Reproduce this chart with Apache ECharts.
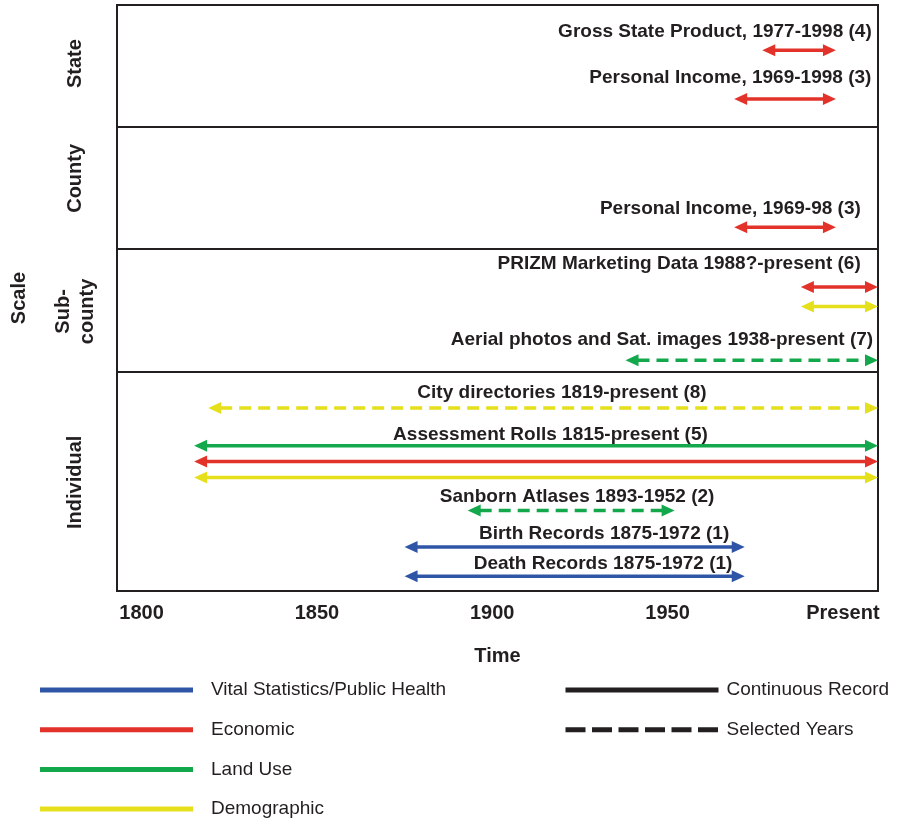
<!DOCTYPE html>
<html>
<head>
<meta charset="utf-8">
<title>Record sources by scale and time</title>
<script src="https://cdn.jsdelivr.net/npm/echarts@6/dist/echarts.min.js"></script>
<style>
  html, body { margin: 0; padding: 0; background: #ffffff; }
  #chart { width: 898px; height: 822px; }
</style>
</head>
<body>
<div id="chart"></div>
<script>
// ---- Data -----------------------------------------------------------------
// Time axis runs from just before 1800 to the present; open-ended records
// ("-present") run to the right edge.
const TIME_MIN = 1793;
const PRESENT = 2010;

const timeTicks = [1800, 1850, 1900, 1950, 2000];
const timeTickLabels = ['1800', '1850', '1900', '1950', 'Present'];

const scaleNames = ['State', 'County', 'Sub-\ncounty', 'Individual'];

const themes = ['Vital Statistics/Public Health', 'Economic', 'Land Use', 'Demographic'];
const recordings = ['Continuous Record', 'Selected Years'];

// One entry per record source
const sourceTitles = [
  'Gross State Product, 1977-1998 (4)',
  'Personal Income, 1969-1998 (3)',
  'Personal Income, 1969-98 (3)',
  'PRIZM Marketing Data 1988?-present (6)',
  'Aerial photos and Sat. images 1938-present (7)',
  'City directories 1819-present (8)',
  'Assessment Rolls 1815-present (5)',
  'Sanborn Atlases 1893-1952 (2)',
  'Birth Records 1875-1972 (1)',
  'Death Records 1875-1972 (1)'
];
const sourceScale = ['State', 'State', 'County', 'Sub-\ncounty', 'Sub-\ncounty',
  'Individual', 'Individual', 'Individual', 'Individual', 'Individual'];
const sourceFrom = [1977, 1969, 1969, 1988, 1938, 1819, 1815, 1893, 1875, 1875];
const sourceTo = [1998, 1998, 1998, PRESENT, PRESENT, PRESENT, PRESENT, 1952, 1972, 1972];
const sourceThemes = [
  ['Economic'],
  ['Economic'],
  ['Economic'],
  ['Economic', 'Demographic'],
  ['Land Use'],
  ['Demographic'],
  ['Land Use', 'Economic', 'Demographic'],
  ['Land Use'],
  ['Vital Statistics/Public Health'],
  ['Vital Statistics/Public Health']
];
const sourceRecording = [
  'Continuous Record', 'Continuous Record', 'Continuous Record', 'Continuous Record',
  'Selected Years', 'Selected Years', 'Continuous Record', 'Selected Years',
  'Continuous Record', 'Continuous Record'
];

// ---- Layout ---------------------------------------------------------------
// Vertical axis units: each scale band is 10 units tall, Individual is 18.
const scaleBounds = [0, 10, 20, 30, 48];
const scaleLabelAt = [4.8, 14.2, 25.1, 39.1];
// lane of each arrow of each source (same order as sourceThemes)
const arrowLanes = [[3.7], [7.7], [18.2], [23.1, 24.7], [29.1], [33.0],
  [36.1, 37.4, 38.7], [41.4], [44.4], [46.8]];
// centre of each source title: [year, lane]
const titleAnchors = [
  [1963.5, 2.2], [1967.9, 6.0], [1967.9, 16.7], [1953.3, 21.2], [1948.4, 27.4],
  [1919.9, 31.8], [1916.6, 35.2], [1924.2, 40.3], [1931.9, 43.3], [1931.6, 45.8]
];

// ---- Style ----------------------------------------------------------------
const INK = '#231f20';
const FONT = '"Liberation Sans", Arial, Helvetica, sans-serif';
const themeColors = {
  'Vital Statistics/Public Health': '#2f56a6',
  'Economic': '#e3322a',
  'Land Use': '#13a84b',
  'Demographic': '#e5e01b'
};
const SELECTED_DASH = [12, 7];

// Double-headed arrow between two years on one lane
function renderArrow(params, api) {
  const lane = api.value(2);
  const a = api.coord([api.value(0), lane]);
  const b = api.coord([api.value(1), lane]);
  const color = api.visual('color');
  const dashed = api.value(3) === 1;
  const L = 13, H = 6;
  return {
    type: 'group',
    children: [
      {
        type: 'line',
        shape: { x1: a[0] + L - 1, y1: a[1], x2: b[0] - L + 1, y2: b[1] },
        style: { stroke: color, lineWidth: 3.5, lineDash: dashed ? SELECTED_DASH : null }
      },
      {
        type: 'polygon',
        shape: { points: [[a[0], a[1]], [a[0] + L, a[1] - H], [a[0] + L, a[1] + H]] },
        style: { fill: color }
      },
      {
        type: 'polygon',
        shape: { points: [[b[0], b[1]], [b[0] - L, b[1] - H], [b[0] - L, b[1] + H]] },
        style: { fill: color }
      }
    ]
  };
}

function renderTitle(params, api) {
  const p = api.coord([api.value(0), api.value(1)]);
  return {
    type: 'text',
    x: p[0],
    y: p[1],
    style: {
      text: sourceTitles[params.dataIndex],
      fill: INK,
      fontSize: 19,
      fontWeight: 'bold',
      fontFamily: FONT,
      align: 'center',
      verticalAlign: 'middle'
    }
  };
}

const arrowSeries = themes.map(function (theme) {
  const data = [];
  sourceTitles.forEach(function (title, i) {
    sourceThemes[i].forEach(function (th, k) {
      if (th === theme) {
        data.push([sourceFrom[i], sourceTo[i], arrowLanes[i][k],
          sourceRecording[i] === 'Selected Years' ? 1 : 0]);
      }
    });
  });
  return {
    type: 'custom',
    name: theme,
    coordinateSystem: 'cartesian2d',
    encode: { x: [0, 1], y: 2 },
    itemStyle: { color: themeColors[theme] },
    renderItem: renderArrow,
    clip: false,
    silent: true,
    z: 3,
    data: data
  };
});

const titleSeries = {
  type: 'custom',
  name: 'titles',
  coordinateSystem: 'cartesian2d',
  encode: { x: 0, y: 1 },
  renderItem: renderTitle,
  clip: false,
  silent: true,
  z: 4,
  data: titleAnchors,
  markLine: {
    silent: true,
    symbol: ['none', 'none'],
    label: { show: false },
    lineStyle: { color: INK, width: 2, type: 'solid' },
    data: scaleBounds.slice(1, -1).map(function (v) { return { yAxis: v }; })
  }
};

// Empty line series that only feed the line-style legend;
// the point marker is transparent so only the stroke shows.
const recordingSeries = recordings.map(function (name) {
  return {
    type: 'line',
    name: name,
    symbol: 'none',
    showSymbol: false,
    data: [],
    lineStyle: { color: INK, width: 5, type: name === 'Selected Years' ? [20, 6.5] : 'solid' },
    itemStyle: { color: 'rgba(0,0,0,0)' }
  };
});

const legendText = { fontSize: 19, color: INK, fontFamily: FONT, lineHeight: 20 };

const chart = echarts.init(document.getElementById('chart'), null, { renderer: 'canvas' });

chart.setOption({
  animation: false,
  backgroundColor: '#ffffff',
  textStyle: { fontFamily: FONT, color: INK },
  grid: {
    left: 117, right: 20, top: 5, bottom: 231,
    show: true, borderColor: INK, borderWidth: 2,
    containLabel: false, outerBoundsMode: 'none'
  },
  xAxis: {
    type: 'value',
    min: TIME_MIN,
    max: PRESENT,
    axisLine: { show: false },
    axisTick: { show: false },
    splitLine: { show: false },
    axisLabel: {
      customValues: timeTicks,
      formatter: function (v) { return timeTickLabels[timeTicks.indexOf(v)]; },
      margin: 12,
      fontSize: 20,
      fontWeight: 'bold',
      color: INK,
      fontFamily: FONT
    },
    name: 'Time',
    nameLocation: 'middle',
    nameGap: 55,
    nameTextStyle: { fontSize: 20, fontWeight: 'bold', color: INK, fontFamily: FONT }
  },
  yAxis: {
    type: 'value',
    inverse: true,
    min: scaleBounds[0],
    max: scaleBounds[scaleBounds.length - 1],
    axisLine: { show: false },
    axisTick: { show: false },
    splitLine: { show: false },
    axisLabel: {
      customValues: scaleLabelAt,
      formatter: function (v) { return scaleNames[scaleLabelAt.indexOf(v)]; },
      rotate: 90,
      align: 'center',
      verticalAlign: 'middle',
      margin: 42,
      lineHeight: 24,
      fontSize: 20,
      fontWeight: 'bold',
      color: INK,
      fontFamily: FONT
    },
    name: 'Scale',
    nameLocation: 'middle',
    nameRotate: 90,
    nameGap: 88,
    nameTextStyle: { fontSize: 20, fontWeight: 'bold', color: INK, fontFamily: FONT }
  },
  legend: [
    {
      data: themes.map(function (n) { return { name: n, icon: 'rect' }; }),
      orient: 'vertical',
      left: 40,
      top: 680,
      height: 160,
      padding: 0,
      itemWidth: 153,
      itemHeight: 5,
      itemGap: 19.7,
      selectedMode: false,
      textStyle: Object.assign({ padding: [0, 0, 0, 13] }, legendText)
    },
    {
      data: recordings,
      orient: 'vertical',
      left: 563,
      top: 680,
      height: 100,
      padding: 0,
      itemWidth: 153,
      itemHeight: 5,
      itemGap: 19.7,
      selectedMode: false,
      lineStyle: { width: 5 },
      textStyle: Object.assign({ padding: [0, 0, 0, 3] }, legendText)
    }
  ],
  series: arrowSeries.concat([titleSeries]).concat(recordingSeries)
});
</script>
</body>
</html>
